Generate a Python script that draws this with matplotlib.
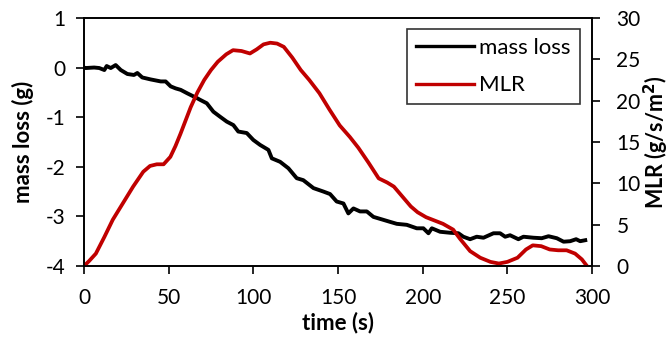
import matplotlib
matplotlib.use("Agg")
import matplotlib.pyplot as plt

plt.rcParams['font.family'] = ['Lato', 'DejaVu Sans']
plt.rcParams['axes.unicode_minus'] = False

# mass loss (g)
t_mass = [0, 1, 6, 9, 12, 13.4, 15.8, 18.7, 21.7, 25.6, 29.5, 31.5, 34.4, 39.4, 45.3, 48.2,
          51.2, 54.1, 57.1, 61, 66.9, 68.5, 72.5, 76.4, 80.3, 84.3, 88.2, 91.1, 96.1, 100,
          104, 108.9, 110.9, 115.8, 120.7, 125.6, 129.5, 135.5, 141.4, 145.3, 149.2, 153.2,
          156.1, 159.1, 163, 167, 170.9, 176.8, 180.7, 184.7, 190.6, 196.5, 200.4, 203.4,
          205.4, 210.3, 216.2, 221.1, 224, 228, 231.9, 235.9, 241.8, 245.7, 248.7, 251.6,
          256.5, 259.5, 265.4, 270.3, 274.3, 279.2, 283.2, 287.1, 290.6, 293, 296]
mass = [0, -0.01, 0.0, -0.01, -0.05, 0.03, -0.01, 0.05, -0.05, -0.13, -0.15, -0.11, -0.2,
        -0.24, -0.28, -0.28, -0.38, -0.42, -0.45, -0.52, -0.62, -0.65, -0.72, -0.89, -0.99,
        -1.09, -1.16, -1.29, -1.32, -1.46, -1.56, -1.66, -1.83, -1.9, -2.03, -2.23, -2.27,
        -2.43, -2.5, -2.55, -2.7, -2.74, -2.94, -2.84, -2.9, -2.9, -3.01, -3.07, -3.11,
        -3.15, -3.17, -3.24, -3.24, -3.34, -3.24, -3.31, -3.33, -3.34, -3.41, -3.46, -3.41,
        -3.43, -3.34, -3.34, -3.41, -3.38, -3.46, -3.41, -3.43, -3.44, -3.40, -3.44, -3.51,
        -3.50, -3.46, -3.50, -3.48]

# mass loss rate (g/s/m2)
t_mlr = [0, 3, 7, 12, 17, 23, 29, 35, 39, 43, 47, 51, 54, 57, 60, 63, 67, 71, 75, 79, 84,
         88, 93, 98, 102, 106, 110, 114, 118, 123, 128, 133, 139, 145, 151, 157, 162, 168,
         174, 179, 183, 188, 193, 197, 202, 207, 212, 218, 222, 228, 234, 240, 245, 250,
         256, 261, 265, 270, 275, 280, 285, 290, 294, 297]
mlr = [0, 0.6, 1.5, 3.5, 5.6, 7.6, 9.6, 11.4, 12.1, 12.3, 12.3, 13.2, 14.5, 16.0, 17.6, 19.2,
       21.0, 22.5, 23.7, 24.7, 25.6, 26.1, 26.0, 25.7, 26.2, 26.8, 27.0, 26.9, 26.5, 25.2,
       23.7, 22.5, 20.9, 18.9, 17.0, 15.6, 14.3, 12.5, 10.6, 10.1, 9.6, 8.4, 7.2, 6.5, 5.9,
       5.5, 5.1, 4.4, 3.3, 1.8, 1.0, 0.5, 0.3, 0.5, 1.0, 2.0, 2.5, 2.4, 2.0, 1.9, 1.9, 1.5,
       0.8, 0]

fig = plt.figure(figsize=(6.72, 3.38), dpi=100)
ax = fig.add_axes([0.125, 0.213, 0.756, 0.734])
ax2 = ax.twinx()

l1, = ax.plot(t_mass, mass, color='black', lw=2.8, label='mass loss')
l2, = ax2.plot(t_mlr, mlr, color='#C00000', lw=2.7, label='MLR')

ax.set_xlim(0, 300)
ax.set_ylim(-4, 1)
ax2.set_ylim(0, 30)
ax.set_xticks(range(0, 301, 50))
ax.set_yticks(range(-4, 2))
ax2.set_yticks(range(0, 31, 5))

for a in (ax, ax2):
    for s in a.spines.values():
        s.set_linewidth(1.2)
    a.tick_params(direction='out', length=5.5, width=1.2, labelsize=15)
ax.tick_params(axis='y', pad=8)
ax.tick_params(axis='x', pad=10)
ax2.tick_params(axis='y', pad=12)

ax.set_xlabel('time (s)', fontsize=16, fontweight='bold', labelpad=3)
ax.set_ylabel('mass loss (g)', fontsize=16, fontweight='bold', labelpad=8)
ax2.set_ylabel('MLR (g/s/m$^\\mathbf{2}$)', fontsize=15.5, fontweight='bold', labelpad=1)

leg = ax2.legend(handles=[l1, l2], loc='upper right', bbox_to_anchor=(0.976, 0.956),
                 prop={'size': 16}, handlelength=2.6, frameon=True, fancybox=False,
                 borderpad=0.4, labelspacing=0.8, handletextpad=0.25, borderaxespad=0)
leg.get_frame().set_edgecolor('black')
leg.get_frame().set_linewidth(1.2)
for h in leg.get_lines():
    h.set_linewidth(2.4)

fig.savefig('out.png', dpi=100)
